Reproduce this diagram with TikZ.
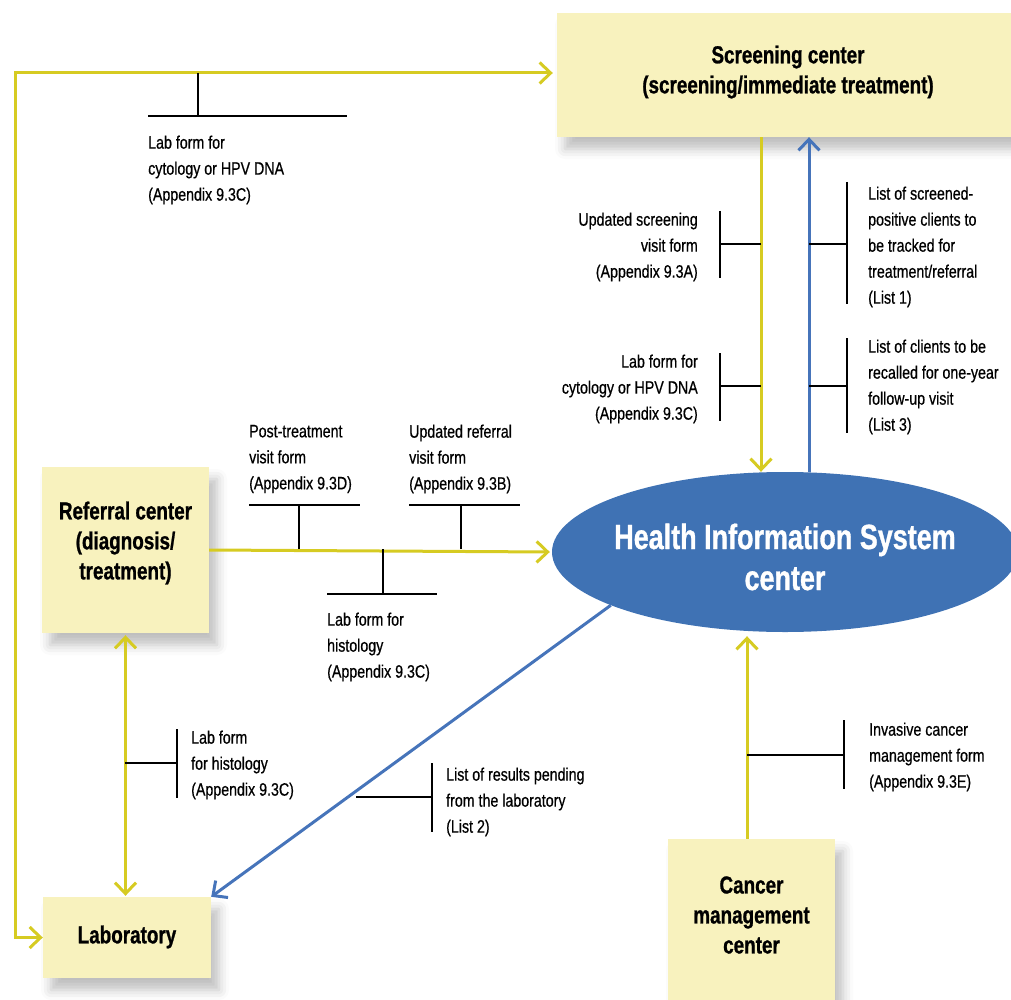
\documentclass[tikz,border=0pt]{standalone}
\usepackage{fontspec}
\setmainfont{Liberation Sans}[FakeStretch=0.78]
\newfontfamily\lblfont{Liberation Sans}[FakeStretch=0.79, FakeBold=0.6]
\newfontfamily\ttlfont{Liberation Sans Bold}[FakeStretch=0.77, FakeBold=0.9]
\usetikzlibrary{arrows.meta,shapes.geometric,shadows.blur}
\definecolor{boxfill}{HTML}{F8F2BE}
\definecolor{ylw}{HTML}{D6CB22}
\definecolor{blu}{HTML}{4674BA}
\definecolor{ellfill}{HTML}{3F72B4}
\begin{document}
\begin{tikzpicture}[x=1pt,y=-1pt,
  box/.style={fill=boxfill, draw=none, inner sep=0pt,
    blur shadow={shadow xshift=8pt, shadow yshift=-12pt, shadow blur radius=10pt, shadow opacity=25}},
  title/.style={inner sep=0pt, align=center, font=\ttlfont\fontsize{24.5}{30}\selectfont},
  lbl/.style={inner sep=0pt, font=\lblfont\fontsize{18}{26}\selectfont},
  ylink/.style={draw=ylw, line width=3pt},
  blink/.style={draw=blu, line width=3pt},
  tick/.style={draw=black, line width=1.2pt},
  ytip/.style={-{Straight Barb[length=11pt,width=21pt]}},
  ytips/.style={{Straight Barb[length=11pt,width=21pt]}-{Straight Barb[length=11pt,width=21pt]}},
]
\useasboundingbox (0,0) rectangle (1011,1000);

% boxes
\node[box, minimum width=462pt, minimum height=124pt] (scr) at (788,75) {};
\node[title] (scrt) at (788,72) {Screening center\\(screening/immediate treatment)};
\node[box, minimum width=167pt, minimum height=166pt] (ref) at (125.5,550) {};
\node[title] (reft) at (125.5,543) {Referral center\\(diagnosis/\\treatment)};
\node[box, minimum width=168pt, minimum height=81pt] (lab) at (127,937.5) {};
\node[title] (labt) at (127,937) {Laboratory};
\node[box, minimum width=167pt, minimum height=172pt] (can) at (751.5,925) {};
\node[title] (cant) at (751.5,915) {Cancer\\management\\center};
\node[ellipse, fill=ellfill, draw=none, minimum width=466pt, minimum height=160pt, inner sep=0pt] (his) at (785,552) {};
\node[inner sep=0pt, text=white, align=center, font=\ttlfont\fontsize{35}{41}\selectfont] (hist) at (785,557)
      {Health Information System\\center};

% connectors
\draw[ylink, ytips, shorten <=4pt] ([yshift=2pt]scr.west) -| (15,937.5) -- (lab.west);
\draw[ylink, ytip] ([xshift=-27pt]scr.south) -- ([xshift=-27pt]scr.south |- his.north);
\draw[blink, -{Straight Barb[length=11pt,width=21pt]}] ([xshift=21pt]scr.south |- his.north) -- ([xshift=21pt]scr.south);
\draw[ylink, ytip, shorten >=2pt] (ref.east) -- (his.west);
\draw[ylink, ytips, shorten <=2pt, shorten >=1pt] (ref.south) -- (ref.south |- lab.north);
\draw[blink, -{Straight Barb[length=11pt,width=21pt]}] (his.197) -- (lab.north east);
\draw[ylink, ytip, shorten >=4pt] ([xshift=-4.5pt]can.north) -- ([xshift=-4.5pt]can.north |- his.south);

% labels
\node[lbl, anchor=west, align=left] (l1) at (148,170) {Lab form for\\cytology or HPV DNA\\(Appendix 9.3C)};
\node[lbl, anchor=east, align=right] (l2) at (698,247) {Updated screening\\visit form\\(Appendix 9.3A)};
\node[lbl, anchor=east, align=right] (l3) at (698,389) {Lab form for\\cytology or HPV DNA\\(Appendix 9.3C)};
\node[lbl, anchor=west, align=left] (l4) at (868,247) {List of screened-\\positive clients to\\be tracked for\\treatment/referral\\(List 1)};
\node[lbl, anchor=west, align=left] (l5) at (868,387) {List of clients to be\\recalled for one-year\\follow-up visit\\(List 3)};
\node[lbl, anchor=west, align=left] (l6) at (249,459) {Post-treatment\\visit form\\(Appendix 9.3D)};
\node[lbl, anchor=west, align=left] (l7) at (409,459) {Updated referral\\visit form\\(Appendix 9.3B)};
\node[lbl, anchor=west, align=left] (l8) at (327,647) {Lab form for\\histology\\(Appendix 9.3C)};
\node[lbl, anchor=west, align=left] (l9) at (191,765) {Lab form\\for histology\\(Appendix 9.3C)};
\node[lbl, anchor=west, align=left] (l10) at (446,802) {List of results pending\\from the laboratory\\(List 2)};
\node[lbl, anchor=west, align=left] (l11) at (869,757) {Invasive cancer\\management form\\(Appendix 9.3E)};

% brackets
\draw[tick] (198,73) -- (198,116) (148,116) -- (347,116);
\draw[tick] (720,211) -- (720,278) (720,244) -- (761,244);
\draw[tick] (720,353) -- (720,421) (720,386) -- (761,386);
\draw[tick] (847,182) -- (847,304) (809,244) -- (847,244);
\draw[tick] (847,338) -- (847,433) (809,386) -- (847,386);
\draw[tick] (299,505) -- (299,549) (249,505) -- (360,505);
\draw[tick] (461,505) -- (461,549) (409,505) -- (520,505);
\draw[tick] (383,549) -- (383,594) (327,594) -- (437,594);
\draw[tick] (177,729) -- (177,798) (125,763) -- (177,763);
\draw[tick] (356,797) -- (432,797) (432,763) -- (432,832);
\draw[tick] (747,755) -- (844,755) (844,720) -- (844,789);
\end{tikzpicture}
\end{document}
